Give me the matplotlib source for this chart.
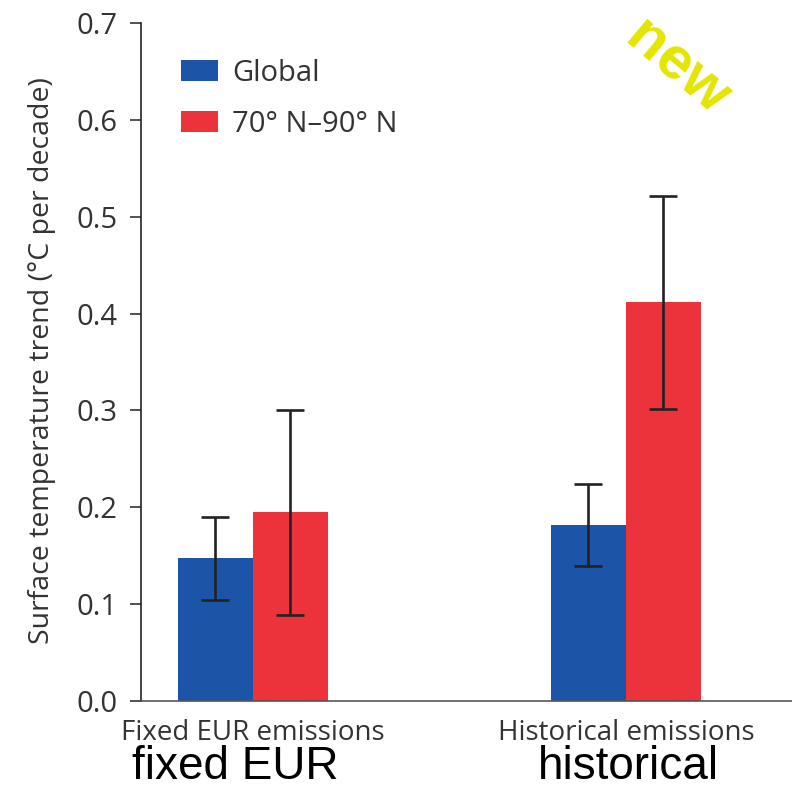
import matplotlib
matplotlib.use("Agg")
import matplotlib.pyplot as plt
import numpy as np

groups = ["Fixed EUR emissions", "Historical emissions"]
group_notes = ["fixed EUR", "historical"]
series = ["Global", "70° N–90° N"]
global_vals = [0.148, 0.182]
global_lo = [0.104, 0.139]
global_hi = [0.190, 0.224]
arctic_vals = [0.195, 0.412]
arctic_lo = [0.089, 0.301]
arctic_hi = [0.300, 0.521]
yticks = [0.0, 0.1, 0.2, 0.3, 0.4, 0.5, 0.6, 0.7]

blue = "#1c54a8"
red = "#ec333b"
txt = "#333333"

fig = plt.figure(figsize=(7.92, 7.88), dpi=100)
ax = fig.add_axes([141/792, 87/788, 651/792, 678/788])

x = np.arange(len(groups))
w = 0.201
gv = np.array(global_vals); av = np.array(arctic_vals)
gerr = [gv - np.array(global_lo), np.array(global_hi) - gv]
aerr = [av - np.array(arctic_lo), np.array(arctic_hi) - av]
ekw = dict(ecolor="#222222", elinewidth=1.9, capsize=10, capthick=1.9)
ax.bar(x - w/2, gv, w, color=blue, label=series[0], yerr=gerr, error_kw=ekw, zorder=2)
ax.bar(x + w/2, av, w, color=red, label=series[1], yerr=aerr, error_kw=ekw, zorder=2)

ax.set_xlim(-0.300, 1.445)
ax.set_ylim(0, 0.7)
ax.set_yticks(yticks)
ax.set_yticklabels([f"{t:.1f}" for t in yticks], fontsize=21, color=txt, family="Open Sans")
ax.set_xticks(x)
ax.set_xticklabels(groups, fontsize=20, color=txt, family="Open Sans")
ax.tick_params(axis="x", length=0, pad=13)
ax.tick_params(axis="y", length=8, width=1.2, color=txt, pad=9)
for s in ["top", "right"]:
    ax.spines[s].set_visible(False)
ax.spines["left"].set_color("#222222")
ax.spines["left"].set_linewidth(1.2)
ax.spines["bottom"].set_color("#555555")
ax.spines["bottom"].set_linewidth(1.2)

ax.set_ylabel("Surface temperature trend (°C per decade)", fontsize=20.5, color=txt,
              family="Open Sans")
ax.yaxis.set_label_coords(-0.13, (701 - 361) / 678)

note_shift = [-18 / 373, 2 / 373]
for xi, note, dx in zip(x, group_notes, note_shift):
    ax.text(xi + dx, -(779 - 701) / 968.6, note, ha="center", va="baseline", fontsize=33,
            family="Liberation Sans", color="black",
            transform=ax.transData, clip_on=False)

leg = ax.legend(loc="upper left", bbox_to_anchor=((181 - 141) / 651, (701 - 59) / 678),
                frameon=False, borderpad=0, borderaxespad=0,
                prop={"family": "Open Sans", "size": 21}, handlelength=1.27,
                handleheight=0.72, labelspacing=0.74, handletextpad=0.48)
for t in leg.get_texts():
    t.set_color(txt)

fig.text(677/792, 1 - 68/788, "new", rotation=-40, ha="center", va="center",
         fontsize=43, fontweight="bold", family="Liberation Sans", color="#e3e600")

fig.savefig("out.png", dpi=100)
